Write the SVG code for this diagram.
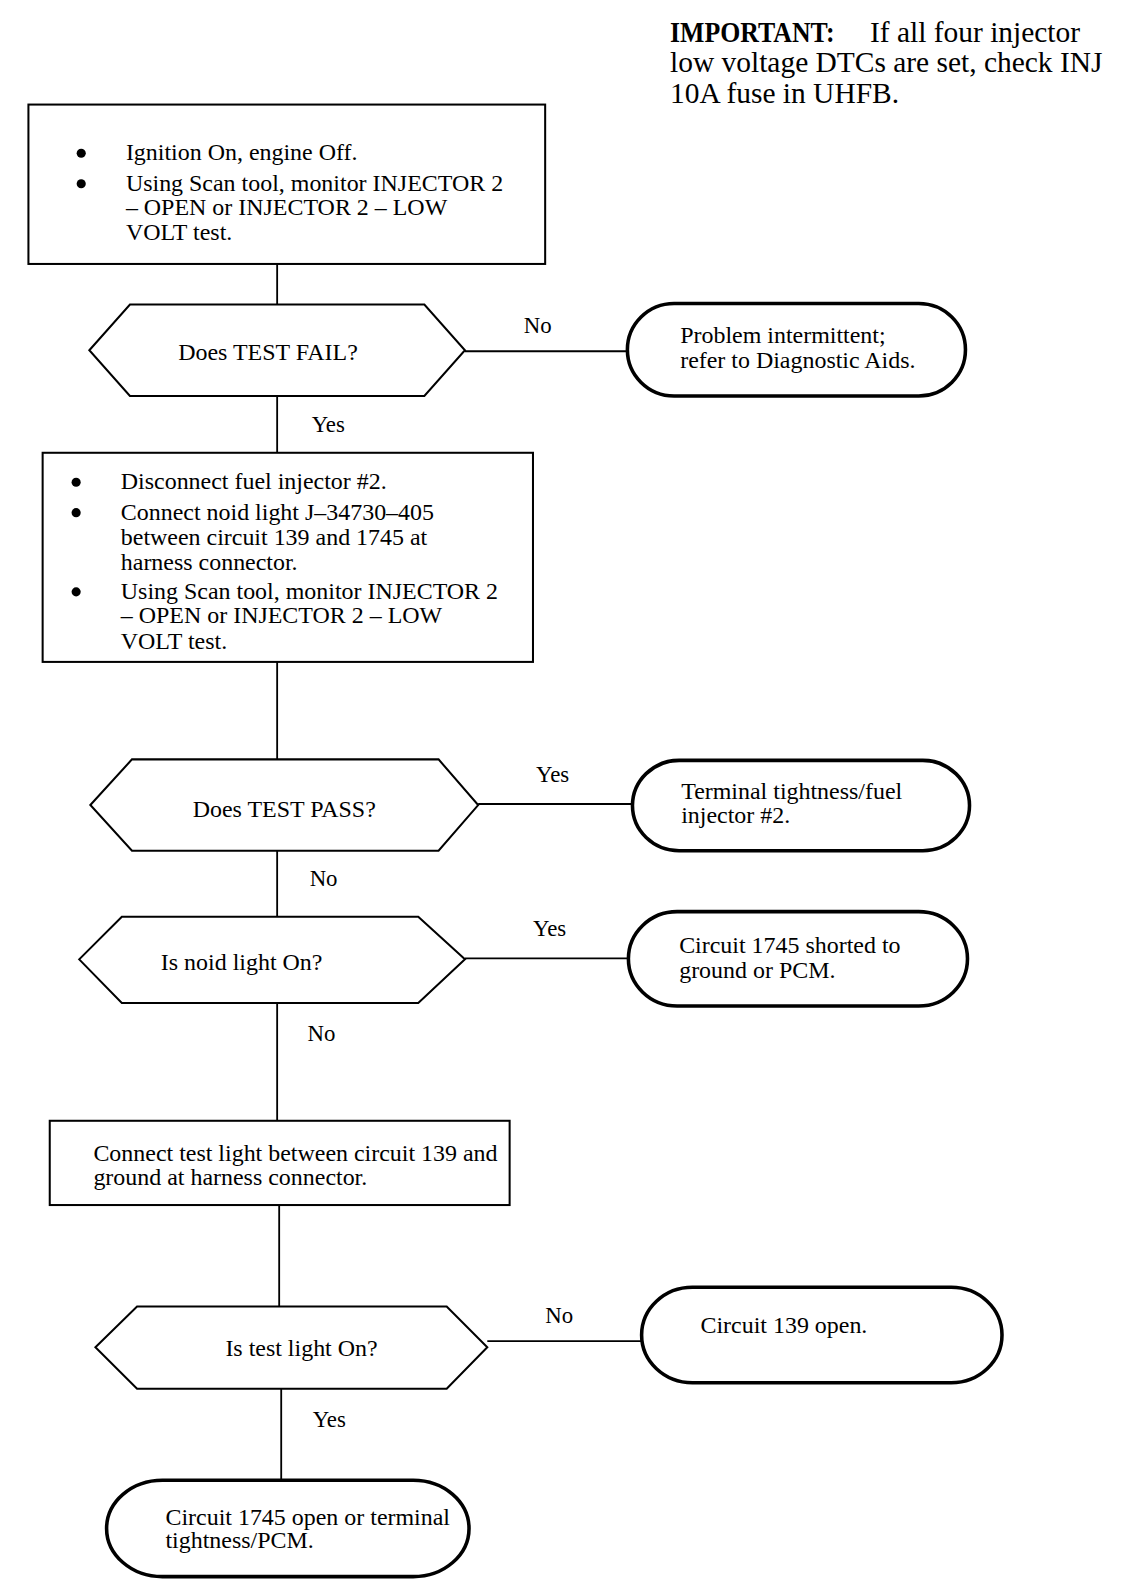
<svg xmlns="http://www.w3.org/2000/svg" width="1136" height="1592" viewBox="0 0 1136 1592">
<style>
text{font-family:"Liberation Serif","Times New Roman",serif;font-size:23.6px;fill:#000}
.box{fill:#fff;stroke:#000;stroke-width:2}
.dec{fill:#fff;stroke:#000;stroke-width:2}
.term{fill:#fff;stroke:#000;stroke-width:3.5}
.conn line{stroke:#000;stroke-width:1.8}
.lbl{font-size:22.5px}
.imp{font-size:29px}
.mid{text-anchor:middle}
</style>
<rect width="1136" height="1592" fill="#fff"/>
<g transform="scale(1.0152)">
<g id="note">
<text class="imp" x="660" y="41" font-weight="bold" textLength="162" lengthAdjust="spacingAndGlyphs">IMPORTANT:</text>
<text class="imp" x="857" y="41">If all four injector</text>
<text class="imp" x="660" y="71">low voltage DTCs are set, check INJ</text>
<text class="imp" x="660" y="101">10A fuse in UHFB.</text>
</g>
<g class="conn" id="connectors">
<line x1="273" y1="260" x2="273" y2="300"/>
<line x1="458" y1="346" x2="618" y2="346"/>
<line x1="273" y1="390" x2="273" y2="446"/>
<line x1="273" y1="652" x2="273" y2="748"/>
<line x1="471" y1="792" x2="623" y2="792"/>
<line x1="273" y1="838" x2="273" y2="903"/>
<line x1="458" y1="944" x2="619" y2="944"/>
<line x1="273" y1="988" x2="273" y2="1104"/>
<line x1="275" y1="1187" x2="275" y2="1287"/>
<line x1="480" y1="1321" x2="632" y2="1321"/>
<line x1="277" y1="1368" x2="277" y2="1458"/>
<text class="lbl" x="516" y="328">No</text>
<text class="lbl" x="307" y="426">Yes</text>
<text class="lbl" x="528" y="770">Yes</text>
<text class="lbl" x="305" y="873">No</text>
<text class="lbl" x="525" y="922">Yes</text>
<text class="lbl" x="303" y="1025">No</text>
<text class="lbl" x="537" y="1303">No</text>
<text class="lbl" x="308" y="1406">Yes</text>
</g>
<g id="n1">
<rect class="box" x="28" y="103" width="509" height="157"/>
<circle cx="80" cy="151" r="4.5"/>
<circle cx="80" cy="181" r="4.5"/>
<text x="124" y="158">Ignition On, engine Off.</text>
<text x="124" y="188">Using Scan tool, monitor INJECTOR 2</text>
<text x="124" y="212">– OPEN or INJECTOR 2 – LOW</text>
<text x="124" y="236">VOLT test.</text>
</g>
<g id="d1">
<polygon class="dec" points="88,345 128,300 418,300 458,345 418,390 128,390"/>
<text class="mid" x="264" y="355">Does TEST FAIL?</text>
</g>
<g id="t1">
<rect class="term" x="618" y="299" width="333" height="91" rx="46" ry="45.5"/>
<text x="670" y="338">Problem intermittent;</text>
<text x="670" y="362">refer to Diagnostic Aids.</text>
</g>
<g id="n2">
<rect class="box" x="42" y="446" width="483" height="206"/>
<circle cx="75" cy="475" r="4.5"/>
<circle cx="75" cy="505" r="4.5"/>
<circle cx="75" cy="583" r="4.5"/>
<text x="119" y="482">Disconnect fuel injector #2.</text>
<text x="119" y="512">Connect noid light J–34730–405</text>
<text x="119" y="537">between circuit 139 and 1745 at</text>
<text x="119" y="561">harness connector.</text>
<text x="119" y="590">Using Scan tool, monitor INJECTOR 2</text>
<text x="119" y="614">– OPEN or INJECTOR 2 – LOW</text>
<text x="119" y="639">VOLT test.</text>
</g>
<g id="d2">
<polygon class="dec" points="89,793 130,748 432,748 471,793 432,838 130,838"/>
<text class="mid" x="280" y="805">Does TEST PASS?</text>
</g>
<g id="t2">
<rect class="term" x="623" y="749" width="332" height="89" rx="46" ry="44.5"/>
<text x="671" y="787">Terminal tightness/fuel</text>
<text x="671" y="811">injector #2.</text>
</g>
<g id="d3">
<polygon class="dec" points="78,945 120,903 412,903 458,945 412,988 120,988"/>
<text class="mid" x="238" y="955">Is noid light On?</text>
</g>
<g id="t3">
<rect class="term" x="619" y="898" width="334" height="93" rx="48" ry="46.5"/>
<text x="669" y="939">Circuit 1745 shorted to</text>
<text x="669" y="963">ground or PCM.</text>
</g>
<g id="n3">
<rect class="box" x="49" y="1104" width="453" height="83"/>
<text x="92" y="1144">Connect test light between circuit 139 and</text>
<text x="92" y="1167">ground at harness connector.</text>
</g>
<g id="d4">
<polygon class="dec" points="94,1327 135,1287 440,1287 480,1327 440,1368 135,1368"/>
<text class="mid" x="297" y="1336">Is test light On?</text>
</g>
<g id="t4">
<rect class="term" x="632" y="1268" width="355" height="94" rx="50" ry="47"/>
<text x="690" y="1313">Circuit 139 open.</text>
</g>
<g id="t5">
<rect class="term" x="105" y="1458" width="357" height="95" rx="55" ry="47.5"/>
<text x="163" y="1502">Circuit 1745 open or terminal</text>
<text x="163" y="1525">tightness/PCM.</text>
</g>
</g>
</svg>
